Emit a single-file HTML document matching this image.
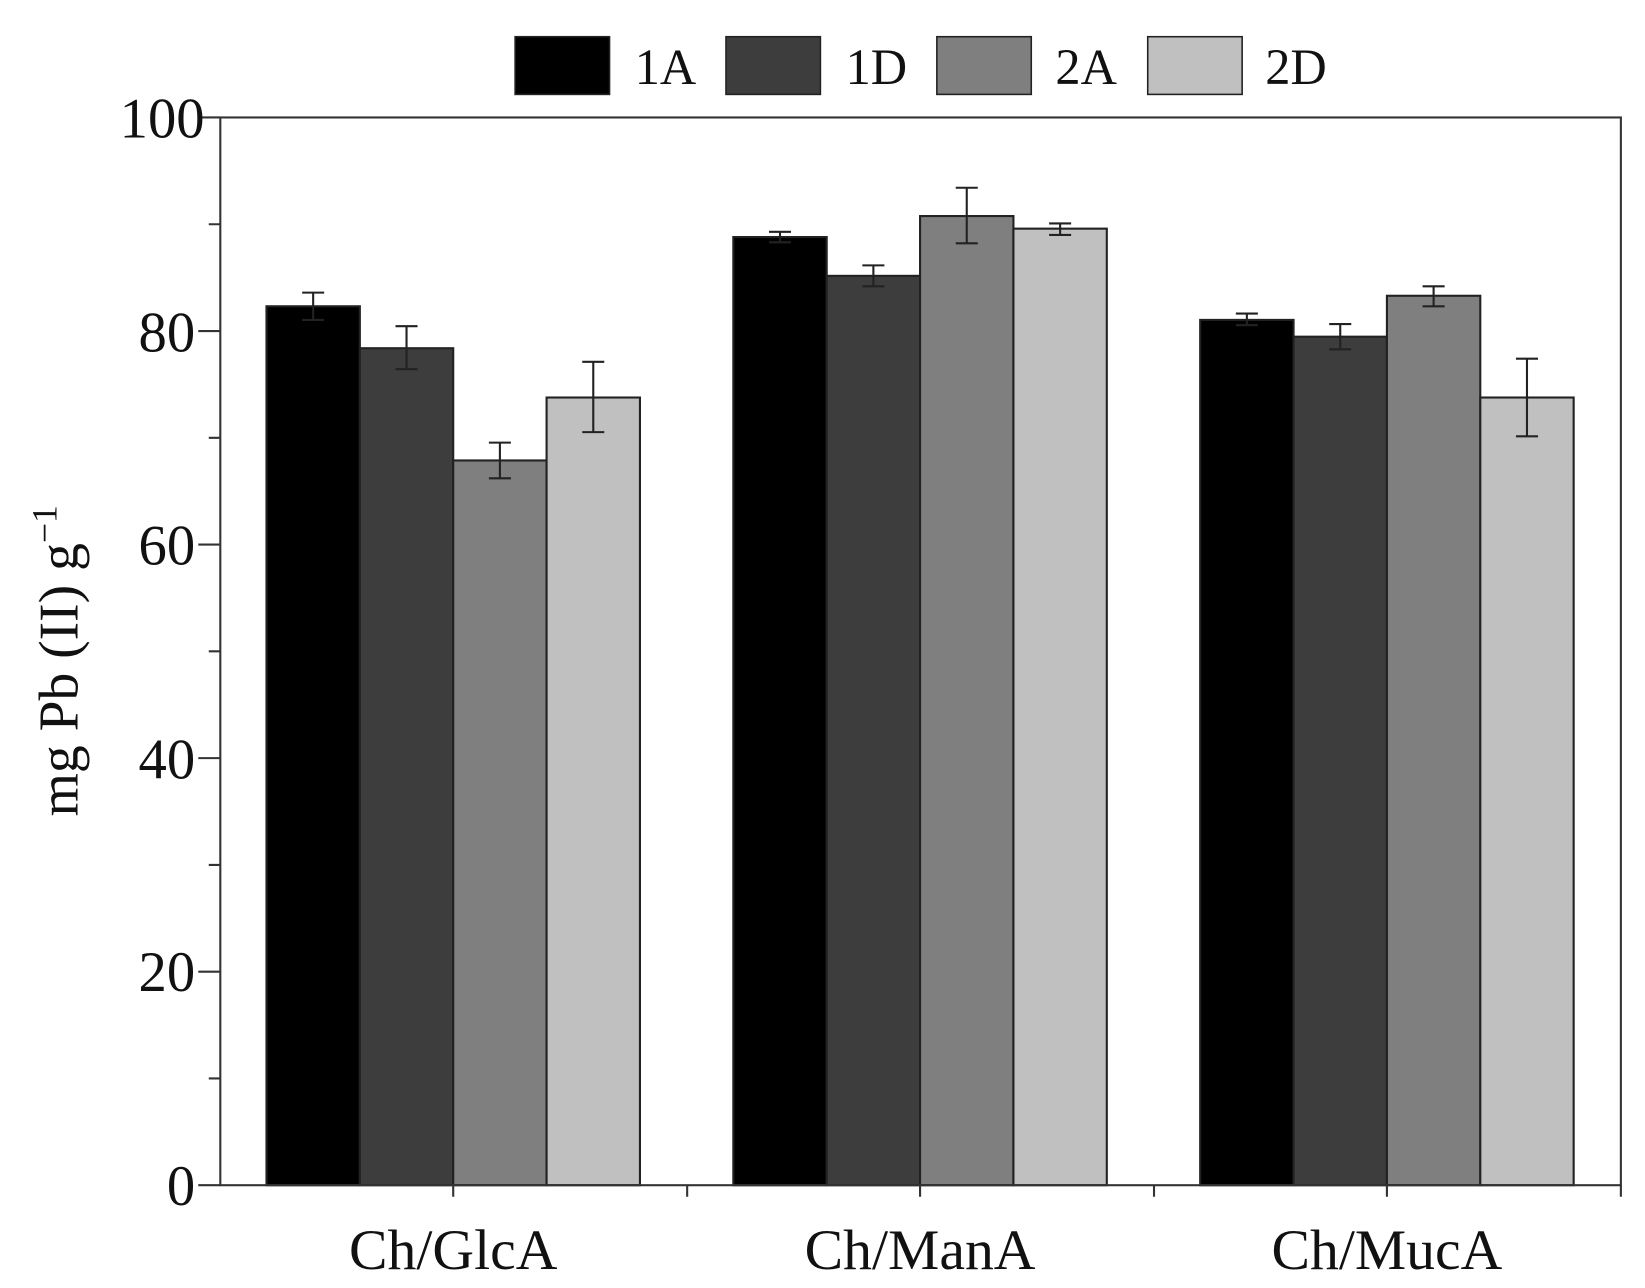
<!DOCTYPE html>
<html><head><meta charset="utf-8"><style>html,body{margin:0;padding:0;background:#fff;}svg{display:block}</style></head>
<body>
<svg width="1645" height="1288" viewBox="0 0 1568 1228" preserveAspectRatio="none" xmlns="http://www.w3.org/2000/svg" font-family="'Liberation Serif', serif">
<!-- legend -->
<g stroke="#222" stroke-width="1.5">
<rect x="491" y="35" width="90" height="55" fill="#000"/>
<rect x="692" y="35" width="90" height="55" fill="#3d3d3d"/>
<rect x="893" y="35" width="90" height="55" fill="#7f7f7f"/>
<rect x="1094" y="35" width="90" height="55" fill="#c0c0c0"/>
</g>
<g font-size="48" fill="#111">
<text x="605" y="80">1A</text>
<text x="806" y="80">1D</text>
<text x="1006" y="80">2A</text>
<text x="1206" y="80">2D</text>
</g>
<!-- bars -->
<g stroke="#222" stroke-width="2">
<rect x="254" y="292" width="89" height="838" fill="#000"/>
<rect x="343" y="332" width="89" height="798" fill="#3d3d3d"/>
<rect x="432" y="439" width="89" height="691" fill="#7f7f7f"/>
<rect x="521" y="379" width="89" height="751" fill="#c0c0c0"/>
<rect x="699" y="226" width="89" height="904" fill="#000"/>
<rect x="788" y="263" width="89" height="867" fill="#3d3d3d"/>
<rect x="877" y="206" width="89" height="924" fill="#7f7f7f"/>
<rect x="966" y="218" width="89" height="912" fill="#c0c0c0"/>
<rect x="1144" y="305" width="89" height="825" fill="#000"/>
<rect x="1233" y="321" width="89" height="809" fill="#3d3d3d"/>
<rect x="1322" y="282" width="89" height="848" fill="#7f7f7f"/>
<rect x="1411" y="379" width="89" height="751" fill="#c0c0c0"/>
</g>
<!-- error bars -->
<g stroke="#222" stroke-width="2" fill="none">
<path d="M298.5 279V305M288 279H309M288 305H309"/>
<path d="M387.5 311V352M377 311H398M377 352H398"/>
<path d="M476.5 422V456M466 422H487M466 456H487"/>
<path d="M565.5 345V412M555 345H576M555 412H576"/>
<path d="M743.5 221V231M733 221H754M733 231H754"/>
<path d="M832.5 253V273M822 253H843M822 273H843"/>
<path d="M921.5 179V232M911 179H932M911 232H932"/>
<path d="M1010.5 213V224M1000 213H1021M1000 224H1021"/>
<path d="M1188.5 299V310M1178 299H1199M1178 310H1199"/>
<path d="M1277.5 309V333M1267 309H1288M1267 333H1288"/>
<path d="M1366.5 273V292M1356 273H1377M1356 292H1377"/>
<path d="M1455.5 342V416M1445 342H1466M1445 416H1466"/>
</g>
<!-- axes -->
<g stroke="#333" stroke-width="2" fill="none">
<rect x="210" y="112" width="1335" height="1018"/>
<path d="M189 1130H210M189 926.4H210M189 722.8H210M189 519.2H210M189 315.6H210M189 112H210"/>
<path d="M199 1028.2H210M199 824.6H210M199 621H210M199 417.4H210M199 213.8H210"/>
<path d="M432 1130V1141M655 1130V1141M877 1130V1141M1100 1130V1141M1322 1130V1141M1545 1130V1141"/>
</g>
<g font-size="54" fill="#111" text-anchor="end">
<text x="186" y="1149">0</text>
<text x="186" y="945">20</text>
<text x="186" y="742">40</text>
<text x="186" y="538">60</text>
<text x="186" y="335">80</text>
<text x="195" y="131">100</text>
</g>
<g font-size="55" fill="#111" text-anchor="middle">
<text x="432" y="1210">Ch/GlcA</text>
<text x="877" y="1210">Ch/ManA</text>
<text x="1322" y="1210">Ch/MucA</text>
</g>
<text transform="translate(74,630) rotate(-90)" font-size="53" fill="#111" text-anchor="middle">mg Pb (II) g<tspan dy="-20" font-size="34">−1</tspan></text>
</svg>
</body></html>
